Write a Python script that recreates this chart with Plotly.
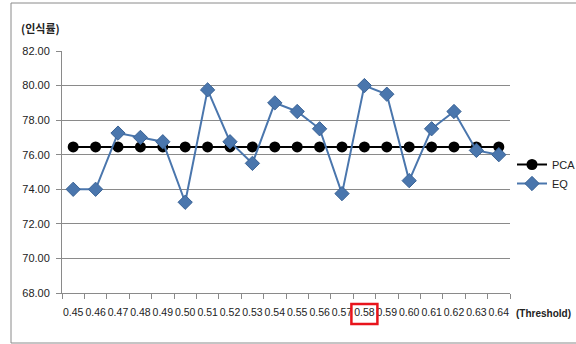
import plotly.graph_objects as go

thresholds = ["0.45", "0.46", "0.47", "0.48", "0.49", "0.50", "0.51", "0.52", "0.53", "0.54",
              "0.55", "0.56", "0.57", "0.58", "0.59", "0.60", "0.61", "0.62", "0.63", "0.64"]
pca = [76.45] * 20
eq = [74.0, 74.0, 77.25, 77.0, 76.75, 73.25, 79.75, 76.75, 75.5, 79.0,
      78.5, 77.5, 73.75, 80.0, 79.5, 74.5, 77.5, 78.5, 76.25, 76.0]
highlight = "0.58"

W, H = 576, 344
L, R, T, B = 62, 66, 51, 51
pw, ph = W - L - R, H - T - B

def px_x(x):
    return (x - L) / pw

def px_y(y):
    return (H - B - y) / ph

font = "Noto Sans CJK KR, Noto Sans, sans-serif"
numfont = "Liberation Sans, Arial, sans-serif"

fig = go.Figure()
fig.add_trace(go.Scatter(
    x=thresholds, y=pca, name="PCA", mode="lines+markers",
    line=dict(color="black", width=2),
    marker=dict(symbol="circle", size=11, color="black"),
))
fig.add_trace(go.Scatter(
    x=thresholds, y=eq, name="EQ", mode="lines+markers",
    line=dict(color="#4a76ad", width=2),
    marker=dict(symbol="diamond", size=11, color="#4a76ad",
                line=dict(color="#3a6396", width=1)),
))

hi = thresholds.index(highlight)
half = 13 / (pw / len(thresholds))
fig.add_shape(type="rect", xref="x", yref="paper",
              x0=hi - half, x1=hi + half, y0=px_y(324), y1=px_y(304),
              line=dict(color="#e8141c", width=2.5))
fig.add_shape(type="rect", xref="paper", yref="paper",
              x0=px_x(11), x1=px_x(590), y0=px_y(343), y1=px_y(3),
              line=dict(color="#8a8a8a", width=1))

fig.add_annotation(text="<b>(인식률)</b>", xref="paper", yref="paper",
                   x=px_x(19), y=px_y(28), xanchor="left", yanchor="middle",
                   showarrow=False, font=dict(family=font, size=11, color="#222"))
fig.add_annotation(text="<b>(Threshold)</b>", xref="paper", yref="paper",
                   x=px_x(514), y=px_y(313), xanchor="left", yanchor="middle",
                   showarrow=False, font=dict(family=numfont, size=10, color="#222"))

fig.update_layout(
    width=W, height=H,
    margin=dict(l=L, r=R, t=T, b=B, autoexpand=False),
    paper_bgcolor="white", plot_bgcolor="white",
    font=dict(family=numfont, size=11, color="#222"),
    showlegend=True,
    legend=dict(x=px_x(512), y=px_y(150), xanchor="left", yanchor="top",
                font=dict(size=11), tracegroupgap=8, itemwidth=30,
                bgcolor="rgba(0,0,0,0)"),
)
fig.update_xaxes(type="category", range=[-0.5, len(thresholds) - 0.5],
                 showline=True, linecolor="#8a8a8a", linewidth=1,
                 ticks="outside", tickson="boundaries", ticklen=5, tickcolor="#8a8a8a",
                 showgrid=False, ticklabelstandoff=9, tickangle=0, automargin=False,
                 tickfont=dict(size=10.5))
fig.update_yaxes(range=[68, 82], dtick=2, tickformat=".2f",
                 showline=True, linecolor="#8a8a8a", linewidth=1,
                 ticks="outside", ticklen=5, tickcolor="#8a8a8a",
                 showgrid=True, gridcolor="#8a8a8a", gridwidth=1, automargin=False,
                 zeroline=False, tickfont=dict(size=11), ticklabelstandoff=4)

fig.write_html("out.html", config={"displayModeBar": False},
               post_script="document.body.style.margin='0';document.body.style.overflow='hidden';")
